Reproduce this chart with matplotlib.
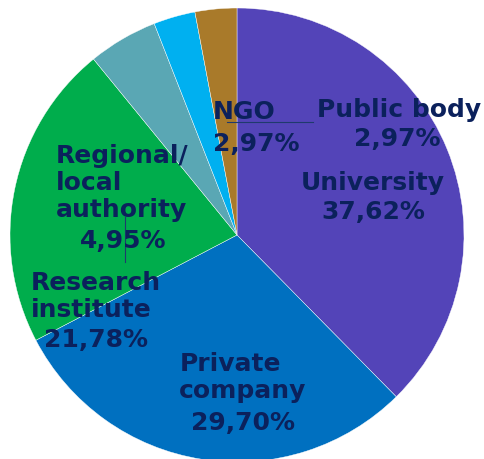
import matplotlib.pyplot as plt

plt.rcParams['font.family'] = 'DejaVu Sans'

# data
categories = ['University', 'Private\ncompany', 'Research\ninstitute',
              'Regional/\nlocal\nauthority', 'Public body', 'NGO']
counts = [38, 30, 22, 5, 3, 3]
colors = ['#5344B8', '#0070C0', '#00AD4C', '#5AA7B4', '#00B0F0', '#A97A2A']

# label placement, in pixels of the 485x460 image (x centre, baseline y)
name_x = [373, 243, 96, 122, 399, 244]
name_y = [190, 398, 317, 217, 117, 119]
pct_x = [373, 243, 96, 123, 397, 256]
pct_y = [219, 430, 347, 248, 146, 151]

W, H = 485, 460
cx, cy, R = 237, 236, 227
txt_col = '#0B215C'


def px(x, y):
    return (x - cx) / R, (cy - y) / R


fig = plt.figure(figsize=(W / 100, H / 100), dpi=100)
ax = fig.add_axes([0, 0, 1, 1])

ax.pie(counts, colors=colors, startangle=90, counterclock=False, radius=1,
       wedgeprops=dict(edgecolor='white', linewidth=0.3))

# pie() resets the limits, so set them afterwards
ax.set_aspect('auto')
ax.set_xlim(-cx / R, (W - cx) / R)
ax.set_ylim(-(H - cy) / R, cy / R)
ax.axis('off')

total = sum(counts)
for i, name in enumerate(categories):
    pct = f'{counts[i] / total * 100:.2f}%'.replace('.', ',')
    x, y = px(name_x[i], name_y[i])
    ax.text(x, y, name, ha='center', va='baseline', multialignment='left',
            fontsize=18, fontweight='heavy', color=txt_col, linespacing=1.15)
    x, y = px(pct_x[i], pct_y[i])
    ax.text(x, y, pct, ha='center', va='baseline',
            fontsize=18, fontweight='heavy', color=txt_col)

# leader lines
ax.plot(*zip(px(227, 123), px(313, 123)), color='#1F3A6E', lw=0.8)
ax.plot(*zip(px(125, 218), px(125, 263)), color='#1F3A6E', lw=0.8)

fig.savefig('out.png', dpi=100)
